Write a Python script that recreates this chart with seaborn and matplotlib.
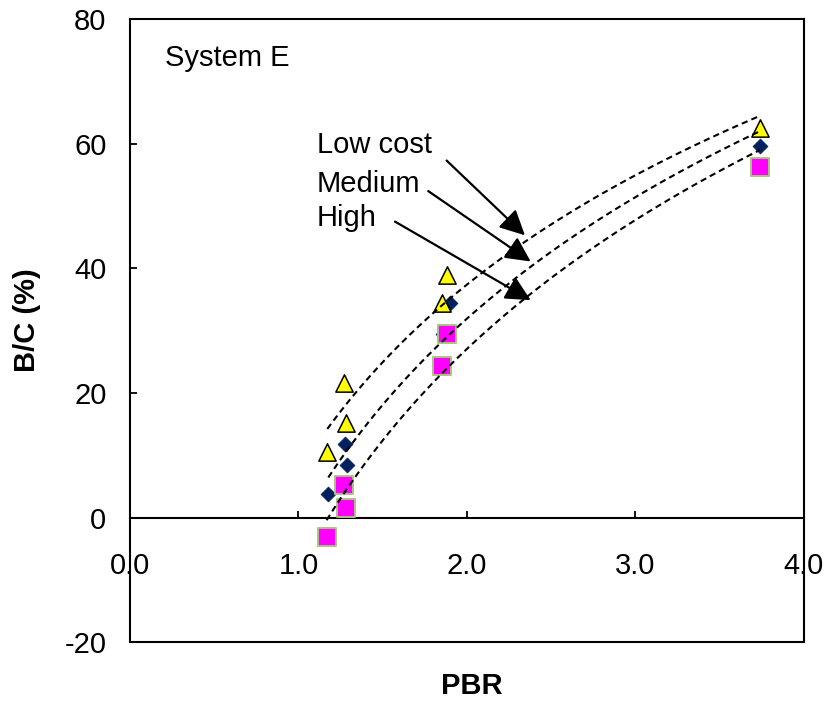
import numpy as np
import pandas as pd
import matplotlib
matplotlib.use("Agg")
import matplotlib.pyplot as plt
import seaborn as sns

# ---- data ----
low_x = [1.171, 1.270, 1.282, 1.853, 1.880, 3.737]
low_y = [10.6, 21.6, 15.2, 34.5, 39.0, 62.5]
med_x = [1.177, 1.278, 1.288, 1.860, 1.900, 3.739]
med_y = [3.8, 11.8, 8.4, 29.5, 34.5, 59.6]
high_x = [1.167, 1.272, 1.282, 1.850, 1.880, 3.737]
high_y = [-3.1, 5.3, 1.6, 24.4, 29.5, 56.3]

x_ticks = [0.0, 1.0, 2.0, 3.0, 4.0]
y_ticks = [-20, 0, 20, 40, 60, 80]
series_labels = ["Low cost", "Medium", "High"]

sns.set_theme(style="white")
plt.rcParams["font.family"] = ["Liberation Sans", "DejaVu Sans"]
plt.rcParams["text.color"] = "black"
plt.rcParams["axes.labelcolor"] = "black"
plt.rcParams["xtick.color"] = "black"
plt.rcParams["ytick.color"] = "black"

FS = 21
fig = plt.figure(figsize=(8.29, 7.01), dpi=100)
ax = fig.add_axes([0.1568, 0.0836, 0.9698 - 0.1568, 0.9729 - 0.0836])

low = pd.DataFrame({"x": low_x, "y": low_y})
med = pd.DataFrame({"x": med_x, "y": med_y})
high = pd.DataFrame({"x": high_x, "y": high_y})

# markers
sns.scatterplot(data=med, x="x", y="y", marker="D", s=58, color="#002060",
                edgecolor="#002060", linewidth=0.5, ax=ax, zorder=3)
sns.scatterplot(data=low, x="x", y="y", marker="^", s=155, color="#FFFF00",
                edgecolor="black", linewidth=1.1, ax=ax, zorder=3)
sns.scatterplot(data=high, x="x", y="y", marker="s", s=155, color="#FF00FF",
                edgecolor="#A9C47F", linewidth=1.4, ax=ax, zorder=4)

# logarithmic trend lines
for d in (low, med, high):
    sns.regplot(data=d, x="x", y="y", logx=True, ci=None, scatter=False, ax=ax,
                line_kws=dict(color="black", lw=1.5, ls=(0, (3, 2)), zorder=6))

ax.set_xlim(0, 4)
ax.set_ylim(-20, 80)
ax.set_xticks(x_ticks)
ax.set_xticklabels([f"{v:.1f}" for v in x_ticks])
ax.set_yticks(y_ticks)
ax.set_yticklabels([str(v) for v in y_ticks])

for s in ax.spines.values():
    s.set_visible(True)
    s.set_color("black")
    s.set_linewidth(1.5)
ax.spines["bottom"].set_position(("data", 0))
ax.axhline(-20, color="black", lw=1.5, clip_on=False, zorder=7)

ax.tick_params(axis="both", direction="in", length=5, width=1.3, colors="black",
               labelsize=FS, bottom=True, left=True)
ax.tick_params(axis="x", pad=25)
ax.tick_params(axis="y", pad=17)

ax.set_xlabel("PBR", fontsize=FS, fontweight="bold")
ax.set_ylabel("B/C (%)", fontsize=FS, fontweight="bold")
ax.xaxis.label.set_va("center")
ax.yaxis.label.set_va("center")
ax.xaxis.set_label_coords(471.7 / 829, 1 - 686 / 701, transform=fig.transFigure)
ax.yaxis.set_label_coords(27 / 829, 1 - 320 / 701, transform=fig.transFigure)

ax.text(0.208, 73.7, "System E", fontsize=FS, ha="left", va="center")

text_y = [59.8, 53.6, 48.0]
arrow_start = [(1.879, 57.3), (1.770, 52.4), (1.573, 47.5)]
arrow_end = [(2.344, 45.3), (2.378, 41.1), (2.378, 34.9)]
for lab, ty, st, en in zip(series_labels, text_y, arrow_start, arrow_end):
    ax.text(1.108, ty, lab, fontsize=FS, ha="left", va="center")
    ax.annotate("", xy=en, xytext=st,
                arrowprops=dict(arrowstyle="-|>,head_length=0.8,head_width=0.4",
                                mutation_scale=19, lw=1.6, color="black",
                                shrinkA=0, shrinkB=0))

fig.savefig("out.png", dpi=100)
